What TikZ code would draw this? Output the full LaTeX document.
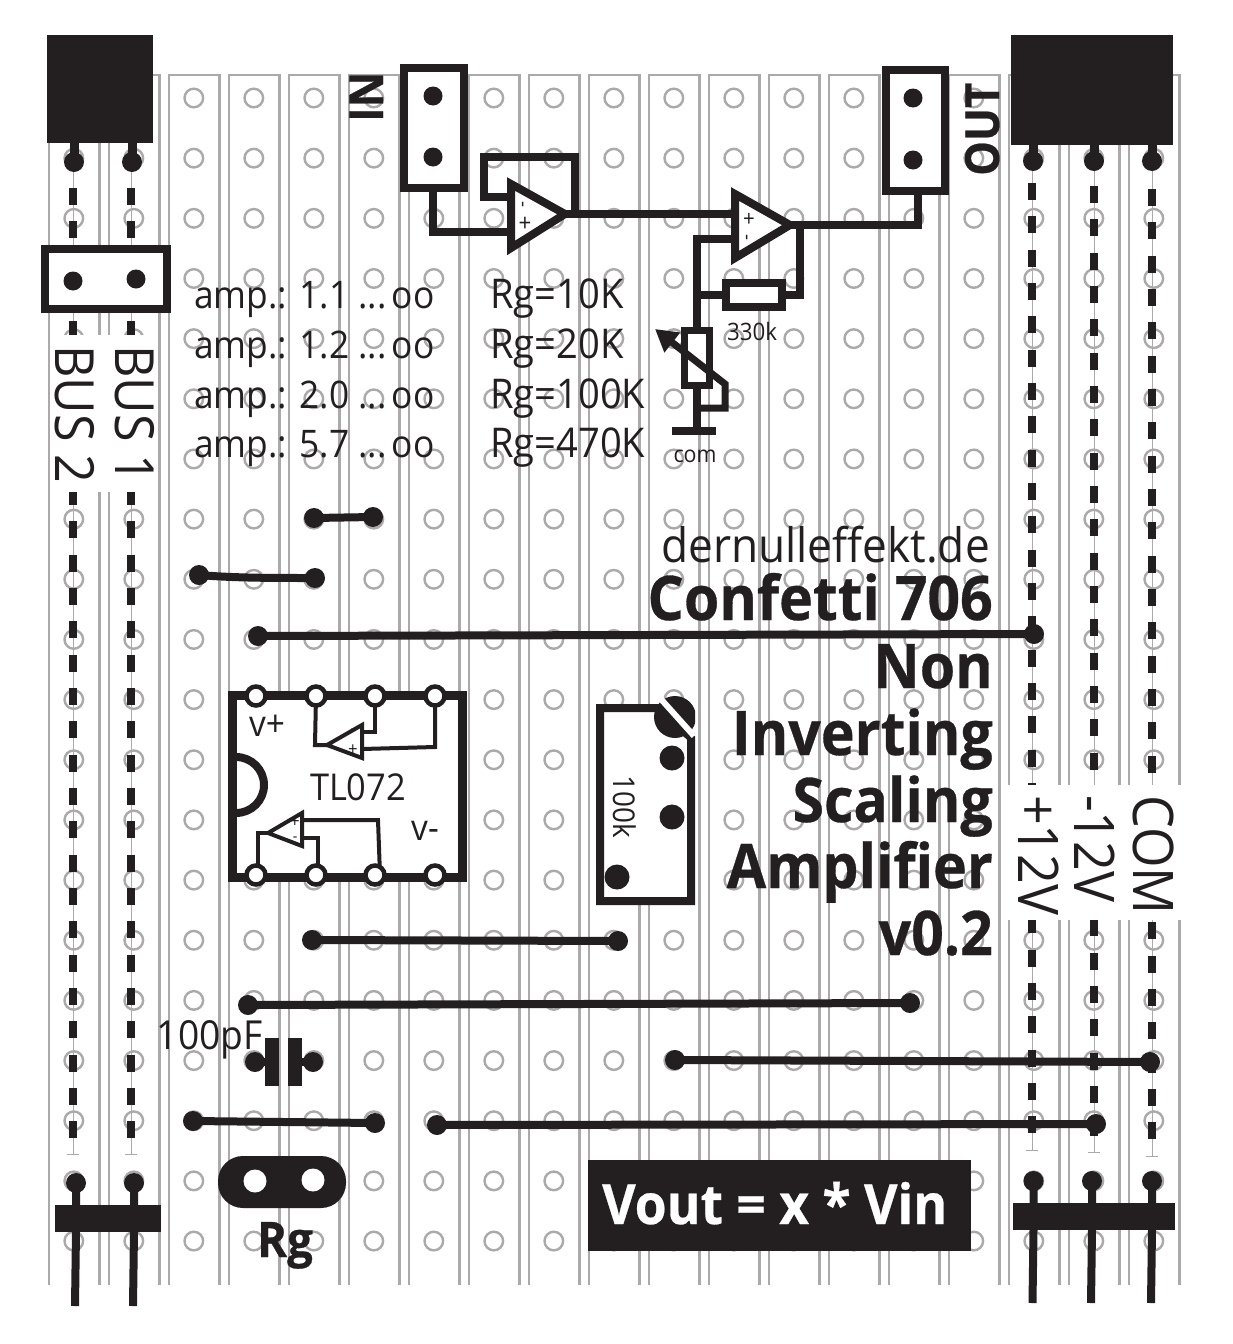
\documentclass[tikz,border=0pt]{standalone}
\usepackage{fontspec}
\setmainfont{Open Sans}[FakeStretch=0.93,BoldFeatures={FakeBold=0.5}]
\usetikzlibrary{arrows.meta}
\definecolor{ink}{HTML}{231F20}
\definecolor{strip}{HTML}{ABA9A9}
\newcommand{\fs}[1]{\fontsize{#1}{#1}\selectfont}
\tikzset{
  x=1pt,y=-1pt,
  stripline/.style={draw=strip,line width=2.4pt},
  thin gray/.style={draw=strip,line width=1pt},
  dashline/.style={draw=ink,line width=8pt,dash pattern=on 17pt off 16.33pt},
  dot/.style={circle,fill=ink,inner sep=0pt,minimum size=20pt},
  bigdot/.style={circle,fill=ink,inner sep=0pt,minimum size=25pt},
  jdot/.style={circle,fill=ink,inner sep=0pt,minimum size=19pt},
  pin/.style={circle,fill=white,draw=ink,line width=4.5pt,inner sep=0pt,minimum size=19pt},
  wire/.style={draw=ink,line width=8pt},
  thick box/.style={draw=ink,line width=8pt,fill=white},
  block/.style={fill=ink},
  plate/.style={fill=ink,inner sep=0pt,minimum width=14pt,minimum height=48pt},
  fine/.style={draw=ink,line width=4pt,line join=miter},
  label/.style={text=ink,inner sep=0pt,font=\fs{38}},
  small/.style={text=ink,inner sep=0pt,font=\fs{24}},
  title/.style={text=ink,inner sep=0pt,anchor=base east,font=\bfseries\fs{61.5}},
  power/.style={text=ink,inner sep=0pt,rotate=-90,anchor=base west,font=\fs{56}},
  opsign/.style={text=ink,inner sep=0pt,font=\fs{15}},
  sidehead/.style={text=ink,inner sep=0pt,rotate=90,anchor=base west,font=\bfseries\fs{47}},
}
\begin{document}
\begin{tikzpicture}
\useasboundingbox (0,0) rectangle (1232,1344);
\fill[white] (0,0) rectangle (1232,1344);
% strips and holes
\foreach \i in {0,...,18}{
  \draw[stripline] ({49+60*\i},1285) -- ({49+60*\i},75) -- ({99.5+60*\i},75) -- ({99.5+60*\i},1285);
  \foreach \j in {0,...,19}{
    \draw[draw=strip,line width=2.4pt] ({73.8+60*\i},{98+60.16*\j}) circle[radius=9.3pt];
  }
}
% bus rails
\foreach \xa/\ya/\yb/\st in {73/162/1154/188,131/162/1154/188,1032/162/1150/183,1094/162/1152/186,1152/162/1156/189}{
  \draw[thin gray] (\xa,\ya) -- (\xa,\yb);
  \draw[thin gray] (\xa-6,\yb) -- (\xa+6,\yb);
  \draw[dashline] (\xa,\st) -- (\xa,\yb-14);
}
% white patches behind the rotated labels
\fill[white] (52,335) rectangle (156,492);
\fill[white] (1008,785) rectangle (1182,920);
% headers top
\fill[block] (47,35) rectangle (153,143);
\fill[block] (1011,35) rectangle (1173,145);
\foreach \n/\x in {ha/74,hb/132}{
  \node[dot] (\n) at (\x,162) {};
  \draw[draw=ink,line width=9pt] (\x,143) -- (\n.center);
}
\foreach \n/\x in {hc/1033,hd/1094,he/1152}{
  \node[dot] (\n) at (\x,161) {};
  \draw[draw=ink,line width=9pt] (\x,145) -- (\n.center);
}
% headers bottom
\foreach \n/\x in {la/76,lb/134}{
  \node[dot] (\n) at (\x,1183) {};
  \draw[draw=ink,line width=8pt] (\n.center) -- (\x,1232) -- (\x-1,1306);
}
\fill[block] (55,1205) rectangle (161,1232);
\foreach \n/\x in {lc/1033.5,ld/1092,le/1152}{
  \node[dot] (\n) at (\x,1181) {};
  \draw[draw=ink,line width=8pt] (\n.center) -- (\x,1230) -- (\x-1,1303);
}
\fill[block] (1013,1203) rectangle (1175,1230);
% bus jumper
\draw[thick box] (45,249) rectangle (167,309);
\node[jdot] (ja) at (73,281) {};
\node[jdot] (jb) at (136,279) {};
\node[power,font=\fs{54}] (bus2) at (55,345) {BUS 2};
\node[power,font=\fs{54}] (bus1) at (115,345) {BUS 1};
% power labels
\node[power] (p12) at (1018,795) {+12V};
\node[power] (m12) at (1074,795) {-12V};
\node[power] (com) at (1133,795) {COM};
% schematic: IN and OUT
\draw[thick box] (404,68) rectangle (464,188);
\node[jdot] (ia) at (433,96) {};
\node[jdot] (ib) at (433,157) {};
\draw[thick box] (886,70) rectangle (945,191);
\node[jdot] (oa) at (913,98) {};
\node[jdot] (ob) at (913,160) {};
\node[sidehead] (ni) at (383,122) {IN};
\node[sidehead] (out) at (999,176) {OUT};
% buffer
\draw[wire,line join=miter] (433,188) -- (433,232) -- (514,232);
\draw[wire,line join=miter] (514,197) -- (484,197) -- (484,157) -- (575,157) -- (575,214);
\draw[thick box,line join=miter] (511,184) -- (511,248) -- (565,214) -- cycle;
\node[opsign,rotate=90,font=\fs{20}] (s1) at (525,205) {-};
\node[opsign,font=\fs{24}] (s2) at (525,224) {+};
\draw[wire] (565,214) -- (735,214);
% gain stage
\draw[wire,line join=miter] (740,239) -- (697,239) -- (697,330);
\draw[wire] (697,295) -- (725,295);
\draw[wire,line join=miter] (790,225) -- (800,225) -- (800,295) -- (783,295);
\draw[wire,line join=miter] (795,225) -- (918,225) -- (918,191);
\draw[thick box,line join=miter] (735,194) -- (735,258) -- (790,225) -- cycle;
\node[opsign,font=\fs{22}] (s3) at (749,220) {+};
\node[opsign,rotate=90,font=\fs{20}] (s4) at (749,238) {-};
\draw[thick box] (726,283) rectangle (782,307);
\node[small] (r330) at (752,331) {330k};
\draw[thick box,line width=7pt] (684,330) rectangle (709,385);
\draw[wire] (697,385) -- (697,431);
\draw[wire] (672,431) -- (716,431);
\draw[draw=ink,line width=7pt,line join=miter,-{Triangle[length=22pt,width=24pt]}] (697,408) -- (725,408) -- (725,384) -- (655,329);
\node[small,font=\fs{23}] (com2) at (695,456) {com};
% amp table
\foreach \y/\a/\r in {308/1.1/10K,358/1.2/20K,408/2.0/100K,457/5.7/470K}{
  \node[label,anchor=base west] at (194,\y) {amp.: \a{} ...\kern-7pt{} oo};
  \node[label,anchor=base west,font=\fs{41}] at (490,\y) {Rg=\r};
}
% wires
\foreach \n/\ax/\ay/\bx/\by in {a/314/518/373/517,c/258/636/1034/634,d/312/940/618/941,e/248/1005/910/1003,f/675/1060/1150/1062,g/193/1121/375/1123,h/437/1125/1096/1124}{
  \node[dot] (\n1) at (\ax,\ay) {};
  \node[dot] (\n2) at (\bx,\by) {};
  \draw[wire] (\n1.center) -- (\n2.center);
}
\node[dot] (b1) at (199,575) {};
\node[dot] (b2) at (315,578) {};
\draw[wire] (b1.center) .. controls (235,578) and (270,578) .. (b2.center);
% IC
\draw[draw=ink,line width=9pt,fill=white] (232,695) rectangle (462,877);
\begin{scope}
  \clip (236,750) rectangle (280,820);
  \draw[draw=ink,line width=8pt] (236,785) circle[radius=28pt];
\end{scope}
\draw[fine] (316,696) -- (315,745) -- (327,745);
\draw[fine] (375,696) -- (375,732) -- (362,732);
\draw[fine] (435,696) -- (435,747) -- (362,749);
\draw[fine] (268,833) -- (258,833) -- (258,875);
\draw[fine] (302,820) -- (378,820) -- (380,875);
\draw[fine] (302,838) -- (318,838) -- (318,875);
\draw[fine,fill=white] (327,745) -- (362,725) -- (362,758) -- cycle;
\draw[fine,fill=white] (268,833) -- (302,813) -- (302,846) -- cycle;
\foreach \n/\x in {pa/256,pb/316,pc/375,pd/435}{
  \node[pin] (\n t) at (\x,696) {};
  \node[pin] (\n b) at (\x,875) {};
}
\node[opsign] (u1) at (353,731) {-};
\node[opsign,font=\fs{18}] (u2) at (353,750) {+};
\node[opsign,font=\fs{18}] (u3) at (295,822) {+};
\node[opsign] (u4) at (295,839) {-};
\node[label,font=\fs{36},anchor=base] (vp) at (267,736) {v+};
\node[label,font=\fs{36},anchor=base] (vm) at (425,840) {v-};
\node[label,font=\fs{37},anchor=base] (tl) at (358,800) {TL072};
% trimmer
\draw[draw=ink,line width=8pt,fill=white,line join=miter] (600,708) -- (660,708) -- (691,738) -- (691,901) -- (600,901) -- cycle;
\begin{scope}
  \clip (650,690) rectangle (695,740);
  \fill[ink] (675,717) circle[radius=21pt];
\end{scope}
\draw[draw=white,line width=6pt] (660,698) -- (694,736);
\node[bigdot] (ta) at (672,758) {};
\node[bigdot] (tb) at (672,817) {};
\node[bigdot] (tc) at (617,877) {};
\node[text=ink,inner sep=0pt,rotate=-90,font=\fs{30}] (t100) at (625,807) {100k};
% capacitor
\node[dot] (ca) at (255,1062) {};
\node[dot] (cb) at (313,1062) {};
\node[plate] (pl1) at (272,1062) {};
\node[plate] (pl2) at (295,1062) {};
\draw[wire] (ca.center) -- (pl1.center);
\draw[wire] (pl2.center) -- (cb.center);
\node[label,font=\fs{40},anchor=base east] (cl) at (263,1049) {100pF};
% Rg
\fill[ink,rounded corners=25pt] (218,1156) rectangle (346,1208);
\node[circle,fill=white,inner sep=0pt,minimum size=23pt] (rga) at (255,1181) {};
\node[circle,fill=white,inner sep=0pt,minimum size=23pt] (rgb) at (313,1180) {};
\node[text=ink,inner sep=0pt,anchor=base,font=\bfseries\fs{49}] (rgl) at (285,1257) {Rg};
% titles
\node[text=ink,inner sep=0pt,anchor=base east,font=\fs{47.5}] (site) at (990,562) {dernulleffekt.de};
\node[title] (t1) at (993,620) {Confetti 706};
\node[title] (t2) at (993,688) {Non};
\node[title] (t3) at (993,755) {Inverting};
\node[title] (t4) at (993,822) {Scaling};
\node[title] (t5) at (993,888) {Amplifier};
\node[title] (t6) at (993,955) {v0.2};
% formula
\fill[block] (588,1160) rectangle (971,1251);
\node[text=white,inner sep=0pt,anchor=base west,font=\bfseries\fs{55.5}] (vout) at (602,1224) {Vout = x * Vin};
\end{tikzpicture}
\end{document}
